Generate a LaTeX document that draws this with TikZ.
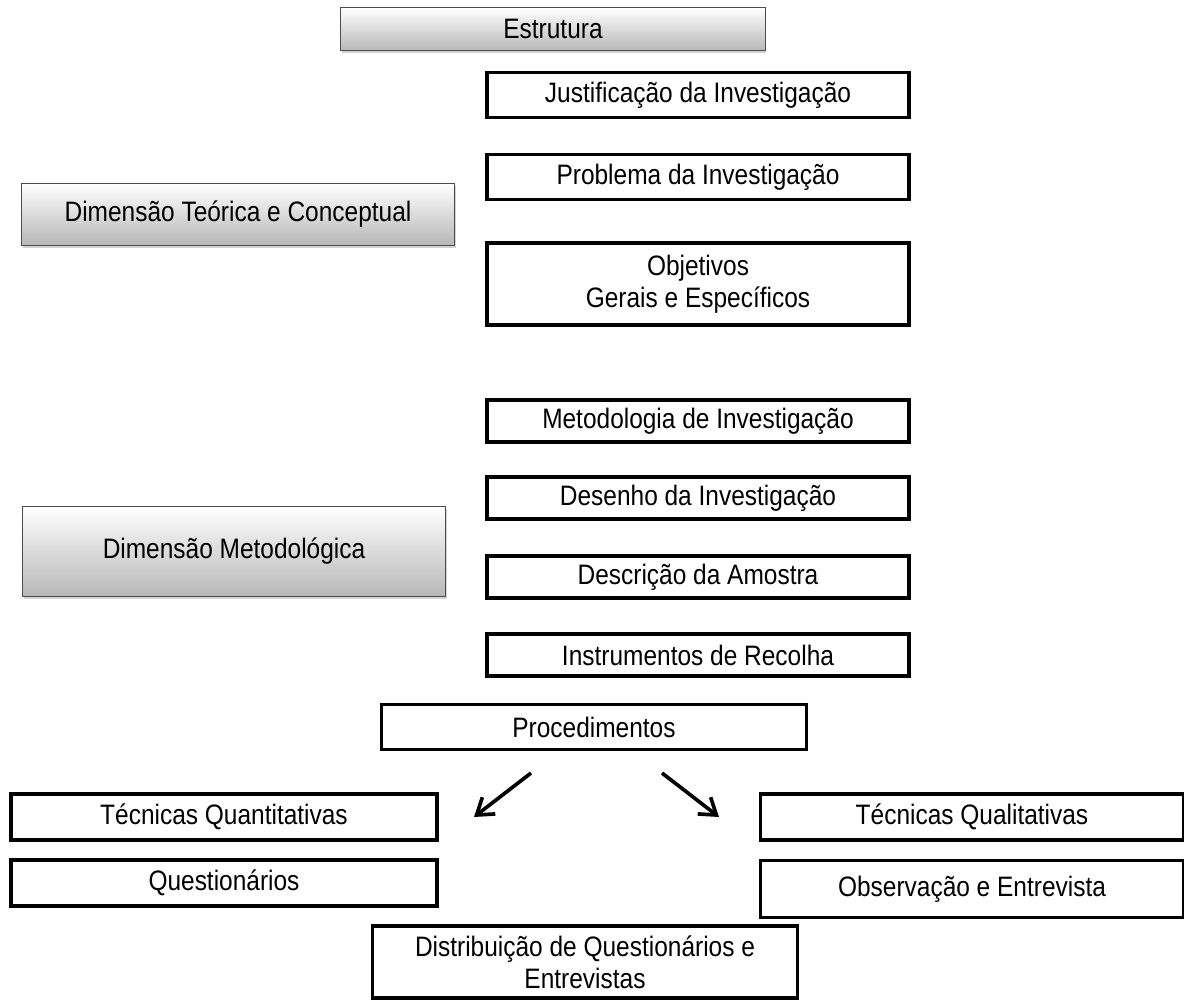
\documentclass[tikz,border=0pt]{standalone}
\usepackage{fontspec}
\setmainfont[FakeStretch=0.87]{Liberation Sans}
\usetikzlibrary{arrows.meta, shadows}

\tikzset{
  caixa/.style={draw=black, line width=2.6pt, fill=white, align=center,
    minimum width=10.55cm, minimum height=1.125cm, inner sep=2pt,
    drop shadow={shadow xshift=0.4pt, shadow yshift=-1.4pt, opacity=0.5}},
  dimensao/.style={draw=black!70, line width=0.7pt, top color=white, bottom color=black!28,
    align=center, inner sep=2pt,
    drop shadow={shadow xshift=0.8pt, shadow yshift=-2pt, opacity=0.35}},
  seta/.style={line width=2.6pt, -{Straight Barb[length=11pt, width=15pt, line width=2.6pt]}},
}

\begin{document}
\begin{tikzpicture}[x=0.025cm, y=-0.025cm, font=\fontsize{20}{23}\selectfont]
    \useasboundingbox (0,0) rectangle (1184,1001);

    % cabecalho
    \node[dimensao, minimum width=10.6cm, minimum height=1.075cm] (estrutura) at (553, 29) {Estrutura};

    % dimensao teorica
    \node[dimensao, minimum width=10.825cm, minimum height=1.55cm] (teorica) at (238, 214) {Dimensão Teórica e Conceptual};
    \node[caixa] (justif) at (698, 95) {Justificação da Investigação};
    \node[caixa] (problema) at (698, 177) {Problema da Investigação};
    \node[caixa, minimum height=2.05cm] (objetivos) at (698, 284) {Objetivos\\Gerais e Específicos};

    % dimensao metodologica
    \node[dimensao, minimum width=10.575cm, minimum height=2.25cm] (metodologica) at (234, 551) {Dimensão Metodológica};
    \node[caixa, minimum height=1.05cm] (metodo) at (698, 421) {Metodologia de Investigação};
    \node[caixa, minimum height=1.05cm] (desenho) at (698, 498) {Desenho da Investigação};
    \node[caixa, minimum height=1.05cm] (amostra) at (698, 577) {Descrição da Amostra};
    \node[caixa, minimum height=1.05cm] (recolha) at (698, 655) {Instrumentos de Recolha};

    \node[caixa, minimum width=10.625cm] (proced) at (594, 727) {Procedimentos};

    % tecnicas
    \node[caixa, minimum width=10.65cm, minimum height=1.15cm] (quanti) at (224, 817) {Técnicas Quantitativas};
    \node[caixa, minimum width=10.65cm, minimum height=1.15cm] (quest) at (224, 883) {Questionários};
    \node[caixa, minimum width=10.575cm, minimum height=1.15cm] (quali) at (972, 817) {Técnicas Qualitativas};
    \node[caixa, minimum width=10.575cm, minimum height=1.425cm] (observ) at (972, 889) {Observação e Entrevista};
    \node[caixa, minimum width=10.625cm, minimum height=1.8cm] (distrib) at (585, 962) {Distribuição de Questionários e\\Entrevistas};

    \coordinate (sEsq) at (531, 773);
    \coordinate (fEsq) at (474, 817);
    \coordinate (sDir) at (662, 773);
    \coordinate (fDir) at (719, 817);
    \draw[seta] (sEsq) -- (fEsq);
    \draw[seta] (sDir) -- (fDir);

\end{tikzpicture}
\end{document}
